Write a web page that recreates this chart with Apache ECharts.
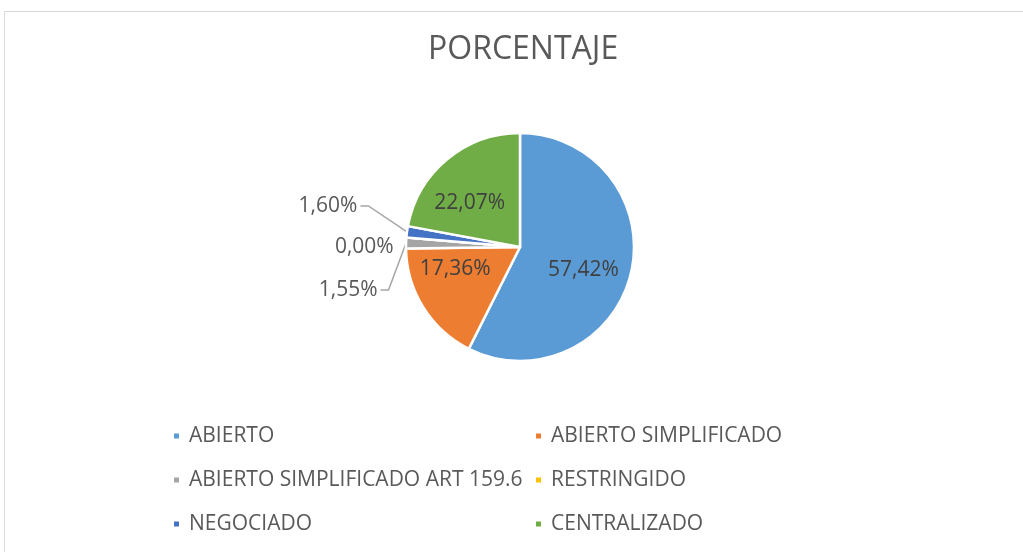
<!DOCTYPE html>
<html>
<head>
<meta charset="utf-8">
<script src="https://cdn.jsdelivr.net/npm/echarts@6/dist/echarts.min.js"></script>
<style>
html,body{margin:0;padding:0;background:#fff;}
#chart{width:1023px;height:552px;}
</style>
</head>
<body>
<div id="chart"></div>
<script>
const categories = ['ABIERTO', 'ABIERTO SIMPLIFICADO', 'ABIERTO SIMPLIFICADO ART 159.6', 'RESTRINGIDO', 'NEGOCIADO', 'CENTRALIZADO'];
const values = [57.42, 17.36, 1.55, 0.00, 1.60, 22.07];
const colors = ['#5B9BD5', '#ED7D31', '#A5A5A5', '#FFC000', '#4472C4', '#70AD47'];
const insideLabels = [true, true, false, false, false, true];
const legendLeft = ['ABIERTO', 'ABIERTO SIMPLIFICADO ART 159.6', 'NEGOCIADO'];
const legendRight = ['ABIERTO SIMPLIFICADO', 'RESTRINGIDO', 'CENTRALIZADO'];
const titleText = 'PORCENTAJE';

const FONT = '"Open Sans", "Noto Sans", sans-serif';
const chart = echarts.init(document.getElementById('chart'), null, {renderer: 'canvas'});

// label line styling for the small outside slices
const outsideLine = {
  2: {length: 14, length2: 6, show: true},
  3: {length: 12, length2: 2, show: false},
  4: {length: 44, length2: 6, show: true}
};
// small nudges for labels (Excel best-fit placement)
const labelNudge = {
  0: [5, 9],
  1: [-14, -10],
  5: [-12, 2],
  2: [-25, -20],
  3: [0, -21],
  4: [0, -20]
};

const data = categories.map((name, i) => {
  const item = {name, value: values[i], itemStyle: {color: colors[i]}};
  if (insideLabels[i]) {
    item.label = {position: 'inside', color: '#404040'};
    item.labelLine = {show: false};
  } else {
    item.label = {position: 'outside', color: '#595959', lineHeight: 40};
    item.labelLine = outsideLine[i];
  }
  return item;
});

const legendCommon = {
  orient: 'vertical',
  top: 424,
  padding: 0,
  itemWidth: 7,
  itemHeight: 7,
  itemGap: 20,
  icon: 'rect',
  selectedMode: false,
  textStyle: {fontFamily: FONT, fontSize: 21, color: '#595959', lineHeight: 24, padding: [0, 0, 0, 4]}
};

chart.setOption({
  animation: false,
  backgroundColor: '#fff',
  title: {
    text: titleText,
    left: 428,
    top: 34,
    padding: 0,
    textStyle: {fontFamily: FONT, fontSize: 32, fontWeight: 'normal', color: '#595959'}
  },
  graphic: [{
    type: 'rect',
    shape: {x: 4.5, y: 11.5, width: 1030, height: 560},
    style: {fill: 'none', stroke: '#D9D9D9', lineWidth: 1},
    silent: true
  }],
  legend: [
    Object.assign({}, legendCommon, {left: 172, data: legendLeft}),
    Object.assign({}, legendCommon, {left: 534, data: legendRight})
  ],
  series: [{
    type: 'pie',
    center: [520, 247],
    radius: 114,
    startAngle: 90,
    clockwise: true,
    avoidLabelOverlap: true,
    itemStyle: {borderColor: '#fff', borderWidth: 2.5},
    label: {
      fontFamily: FONT,
      fontSize: 21,
      formatter: p => p.value.toFixed(2).replace('.', ',') + '%'
    },
    labelLine: {lineStyle: {color: '#A6A6A6', width: 1.5}},
    labelLayout: p => {
      const n = labelNudge[p.dataIndex];
      if (!n) return {};
      const res = {dx: n[0], dy: n[1]};
      const ol = outsideLine[p.dataIndex];
      const pts = p.labelLinePoints;
      if (ol && ol.show && pts && pts.length) {
        const r = p.labelRect;
        const ex = r.x + n[0] + r.width + 3;
        const ey = r.y + n[1] + r.height / 2;
        res.labelLinePoints = [pts[0], [ex + 8, ey], [ex, ey]];
      }
      return res;
    },
    data: data
  }]
});
</script>
</body>
</html>
